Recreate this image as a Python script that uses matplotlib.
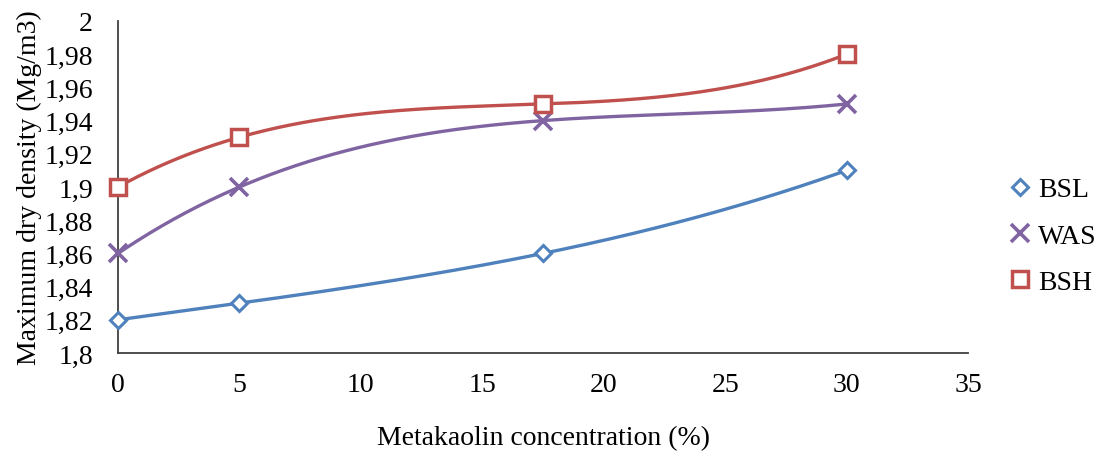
import matplotlib
matplotlib.use("Agg")
import matplotlib.pyplot as plt
from matplotlib.ticker import FuncFormatter, MultipleLocator
import numpy as np

plt.rcParams['font.family'] = ['Liberation Serif', 'DejaVu Serif']

x_vals = [0, 5, 17.5, 30]
bsl = [1.82, 1.83, 1.86, 1.91]
was = [1.86, 1.90, 1.94, 1.95]
bsh = [1.90, 1.93, 1.95, 1.98]
series_names = ['BSL', 'WAS', 'BSH']
colors = ['#4F81BD', '#8064A2', '#C0504D']
markers = ['D', 'x', 's']

fig = plt.figure(figsize=(11.01, 4.60), dpi=100)
ax = fig.add_axes([0.1072, 0.2304, 0.772, 0.7218])

marker_kw = {
    'D': dict(marker='D', ms=8, mew=2.2, mfc='white'),
    'x': dict(marker='x', ms=13, mew=2.6),
    's': dict(marker='s', ms=11, mew=2.5, mfc='white'),
}

handles = []
for name, ys, c, m in zip(series_names, [bsl, was, bsh], colors, markers):
    # third-order polynomial trendline (as in the original spreadsheet chart)
    coef = np.polyfit(x_vals, ys, 3)
    xt = np.linspace(min(x_vals), max(x_vals), 300)
    ax.plot(xt, np.polyval(coef, xt), color=c, lw=2.4, zorder=2,
            solid_capstyle='round')
    kw = dict(marker_kw[m])
    if m == 'x':
        kw['color'] = c
    else:
        kw['mec'] = c
    h, = ax.plot(x_vals, ys, linestyle='none', zorder=3, clip_on=False,
                 label=name, **kw)
    handles.append(h)

ax.set_xlim(0, 35)
ax.set_ylim(1.8, 2.0)
ax.xaxis.set_major_locator(MultipleLocator(5))
ax.yaxis.set_major_locator(MultipleLocator(0.02))


def yfmt(v, pos):
    s = ('%.2f' % v).rstrip('0').rstrip('.')
    return s.replace('.', ',')


ax.yaxis.set_major_formatter(FuncFormatter(yfmt))
ax.xaxis.set_major_formatter(FuncFormatter(lambda v, p: '%d' % round(v)))

for s in ['top', 'right']:
    ax.spines[s].set_visible(False)
for s in ['left', 'bottom']:
    ax.spines[s].set_color('#404040')
    ax.spines[s].set_linewidth(1.3)
ax.tick_params(axis='both', length=0, labelsize=20, colors='black')
ax.tick_params(axis='y', pad=18)
ax.tick_params(axis='x', pad=14)

ax.set_xlabel('Metakaolin concentration (%)', fontsize=20, labelpad=20)
ax.set_ylabel('Maximum dry density (Mg/m3)', fontsize=20, labelpad=2)

fig.legend(handles=handles, loc='center left', bbox_to_anchor=(0.9, 0.485),
           frameon=False, fontsize=20, handletextpad=0.0, labelspacing=0.75,
           handlelength=1.3, borderaxespad=0)

fig.savefig('out.png', dpi=100)
